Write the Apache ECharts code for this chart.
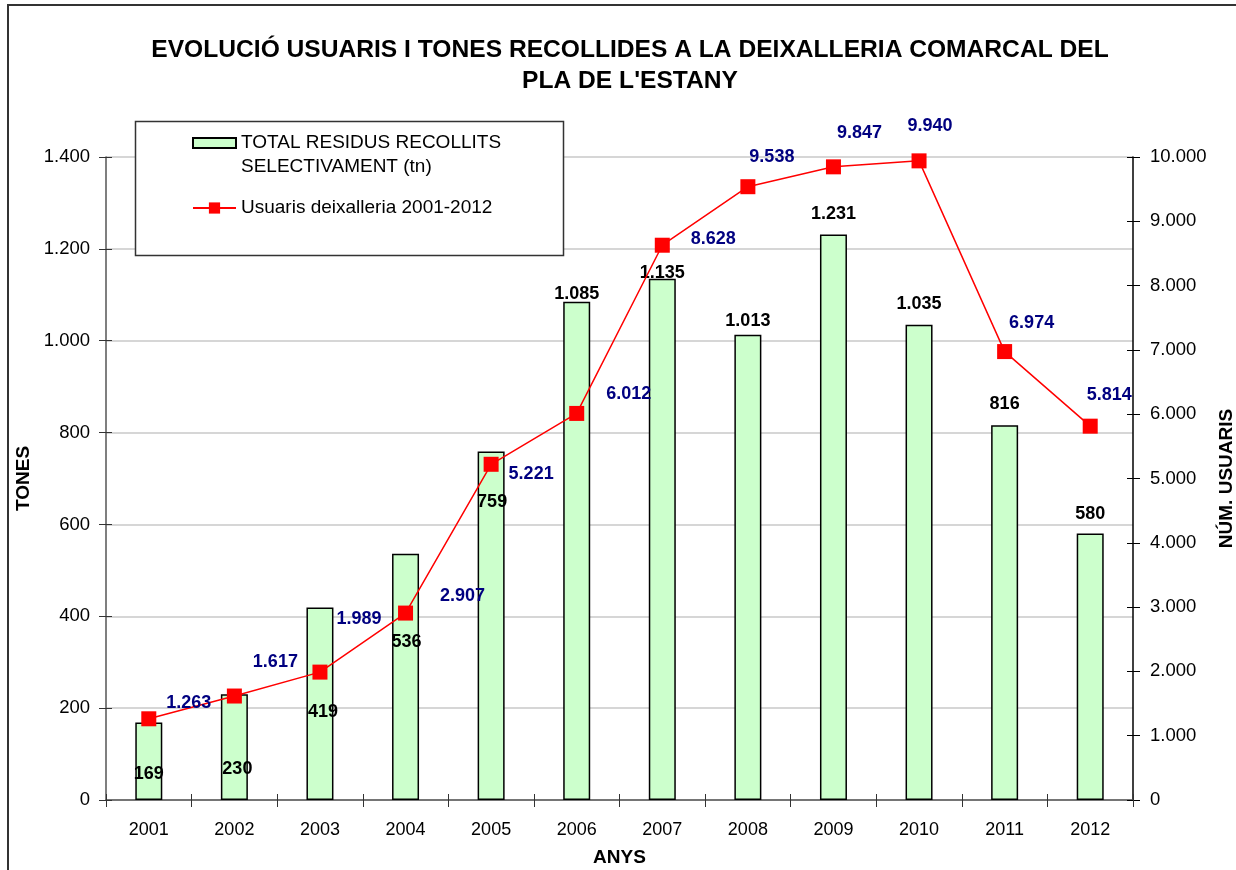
<!DOCTYPE html>
<html>
<head>
<meta charset="utf-8">
<title>Deixalleria comarcal del Pla de l'Estany</title>
<script src="https://cdn.jsdelivr.net/npm/echarts@6/dist/echarts.min.js"></script>
<style>
  html, body { margin: 0; padding: 0; background: #ffffff; }
  #chart { width: 1236px; height: 870px; }
</style>
</head>
<body>
<div id="chart"></div>
<script>
// Anys, tones recollides selectivament i usuaris de la deixalleria
const years = ['2001', '2002', '2003', '2004', '2005', '2006', '2007', '2008', '2009', '2010', '2011', '2012'];
const tones = [169, 230, 419, 536, 759, 1085, 1135, 1013, 1231, 1035, 816, 580];
const usuaris = [1263, 1617, 1989, 2907, 5221, 6012, 8628, 9538, 9847, 9940, 6974, 5814];

const tonesName = 'TOTAL RESIDUS RECOLLITS\nSELECTIVAMENT (tn)';
const usuarisName = 'Usuaris deixalleria 2001-2012';

// Desplaçament de cada etiqueta (px) respecte del cim de la barra / del punt
const tonesLabelShift = [[0, 52], [3, 75], [3, 104], [1, 88], [1, 51], [0, -8], [0, -6], [0, -14], [0, -21], [0, -21], [0, -21], [0, -20]];
const usuarisLabelShift = [[40, -16], [41, -34], [39, -53], [57, -17], [40, 10], [52, -19], [51, -6], [24, -30], [26, -34], [11, -35], [27, -29], [19, -31]];

const FONT = '"Liberation Sans", Arial, sans-serif';

// Format català: punt com a separador de milers
function fmt(v) {
  return String(Math.round(v)).replace(/\B(?=(\d{3})+(?!\d))/g, '.');
}

const chart = echarts.init(document.getElementById('chart'), null, { renderer: 'canvas' });

const option = {
  backgroundColor: '#ffffff',
  animation: false,
  textStyle: { fontFamily: FONT },
  title: {
    text: "EVOLUCIÓ USUARIS I TONES RECOLLIDES A LA DEIXALLERIA COMARCAL DEL\nPLA DE L'ESTANY",
    left: 630,
    top: 35,
    padding: 0,
    textAlign: 'center',
    textStyle: { fontFamily: FONT, fontSize: 24.6, fontWeight: 'bold', color: '#000', lineHeight: 31 }
  },
  graphic: [
    {
      // marc exterior
      type: 'rect', z: -10, silent: true,
      shape: { x: 8, y: 5, width: 1300, height: 1000 },
      style: { fill: 'none', stroke: '#333333', lineWidth: 2 }
    },
    {
      // caixa de la llegenda
      type: 'rect', z: 3, silent: true,
      shape: { x: 135.5, y: 121.5, width: 428, height: 134 },
      style: { fill: '#ffffff', stroke: '#333333', lineWidth: 1.5 }
    }
  ],
  legend: {
    orient: 'vertical',
    left: 192,
    top: 107,
    padding: 0,
    itemGap: 17,
    itemWidth: 43,
    itemHeight: 14,
    z: 5,
    textStyle: { fontFamily: FONT, fontSize: 19, color: '#000', lineHeight: 24 },
    formatter: name => (name === tonesName ? '\n' + name : name),
    data: [
      { name: tonesName, icon: 'path://M0,0h43v10h-43z' },
      { name: usuarisName }
    ]
  },
  grid: { left: 106, right: 103, top: 157, bottom: 70, containLabel: false, outerBoundsMode: 'none' },
  xAxis: [
    {
      type: 'category',
      data: years,
      boundaryGap: true,
      name: 'ANYS',
      nameLocation: 'middle',
      nameGap: 48,
      nameTextStyle: { fontFamily: FONT, fontSize: 19, fontWeight: 'bold', color: '#000' },
      axisLine: { show: true, lineStyle: { color: '#555555', width: 1.5 } },
      axisTick: { show: true, inside: false, length: 7, interval: 0, lineStyle: { color: '#333', width: 1 } },
      axisLabel: { fontFamily: FONT, fontSize: 18, color: '#000', margin: 21 },
      splitLine: { show: false }
    },
    {
      type: 'category',
      data: years,
      position: 'bottom',
      boundaryGap: true,
      axisLine: { show: false },
      axisTick: { show: true, inside: true, length: 6, interval: 0, lineStyle: { color: '#333', width: 1 } },
      axisLabel: { show: false },
      splitLine: { show: false }
    }
  ],
  yAxis: [
    {
      type: 'value',
      position: 'left',
      min: 0, max: 1400, interval: 200,
      name: 'TONES',
      nameLocation: 'middle',
      nameRotate: 90,
      nameGap: 70,
      nameTextStyle: { fontFamily: FONT, fontSize: 19, fontWeight: 'bold', color: '#000' },
      axisLine: { show: true, lineStyle: { color: '#555555', width: 1.5 } },
      axisTick: { show: true, inside: false, length: 7, lineStyle: { color: '#333', width: 1 } },
      axisLabel: { fontFamily: FONT, fontSize: 18.5, color: '#000', margin: 16, formatter: fmt },
      splitLine: { show: true, lineStyle: { color: '#c8c8c8', width: 1.5 } }
    },
    {
      type: 'value',
      position: 'right',
      min: 0, max: 10000, interval: 1000,
      name: 'NÚM. USUARIS',
      nameLocation: 'middle',
      nameRotate: 90,
      nameGap: 69,
      nameTextStyle: { fontFamily: FONT, fontSize: 19, fontWeight: 'bold', color: '#000' },
      axisLine: { show: true, lineStyle: { color: '#000', width: 1.5 } },
      axisTick: { show: true, inside: false, length: 7, lineStyle: { color: '#000', width: 1 } },
      axisLabel: { fontFamily: FONT, fontSize: 18.5, color: '#000', margin: 17, formatter: fmt },
      splitLine: { show: false }
    },
    {
      type: 'value',
      position: 'left',
      min: 0, max: 1400, interval: 200,
      axisLine: { show: false },
      axisTick: { show: true, inside: true, length: 6, lineStyle: { color: '#333', width: 1 } },
      axisLabel: { show: false },
      splitLine: { show: false }
    },
    {
      type: 'value',
      position: 'right',
      min: 0, max: 10000, interval: 1000,
      axisLine: { show: false },
      axisTick: { show: true, inside: true, length: 6, lineStyle: { color: '#000', width: 1 } },
      axisLabel: { show: false },
      splitLine: { show: false }
    }
  ],
  series: [
    {
      name: tonesName,
      type: 'bar',
      xAxisIndex: 0,
      yAxisIndex: 0,
      barWidth: 27,
      itemStyle: { color: '#ccffcc', borderColor: '#000', borderWidth: 1.5 },
      data: tones.map((v, i) => ({
        value: v,
        label: { offset: tonesLabelShift[i] }
      })),
      label: {
        show: true,
        position: 'top',
        distance: 0,
        verticalAlign: 'middle',
        align: 'center',
        fontFamily: FONT,
        fontSize: 18,
        fontWeight: 'bold',
        color: '#000',
        formatter: p => fmt(p.value)
      },
      z: 2
    },
    {
      name: usuarisName,
      type: 'line',
      xAxisIndex: 0,
      yAxisIndex: 1,
      symbol: 'rect',
      symbolSize: 15,
      lineStyle: { color: '#ff0000', width: 1.5 },
      itemStyle: { color: '#ff0000' },
      data: usuaris.map((v, i) => ({
        value: v,
        label: { offset: usuarisLabelShift[i] }
      })),
      label: {
        show: true,
        position: 'inside',
        align: 'center',
        verticalAlign: 'middle',
        fontFamily: FONT,
        fontSize: 18,
        fontWeight: 'bold',
        color: '#000080',
        formatter: p => fmt(p.value)
      },
      z: 3
    }
  ]
};

chart.setOption(option);
</script>
</body>
</html>
